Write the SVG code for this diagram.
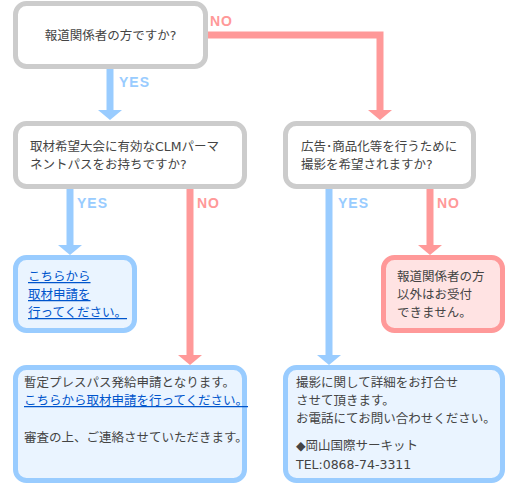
<svg xmlns="http://www.w3.org/2000/svg" width="520" height="500" viewBox="0 0 520 500">
<style>
.box{fill:#fff;stroke:#cccccc;stroke-width:5}
.bbox{fill:#eaf4ff;stroke:#99ccff;stroke-width:5}
.pbox{fill:#ffe3e3;stroke:#ff9999;stroke-width:5}
.t{font-family:"DejaVu Sans","Noto Sans CJK JP",sans-serif;font-size:12.5px;fill:#444444}
.lk{font-family:"DejaVu Sans","Noto Sans CJK JP",sans-serif;font-size:12.5px;fill:#0055cc;text-decoration:underline}
.yl{stroke:#99ccff;stroke-width:7;fill:none}
.nl{stroke:#ff9999;stroke-width:7;fill:none}
.yh{fill:#99ccff}
.nh{fill:#ff9999}
.yes{font-family:"Liberation Sans",Arial,sans-serif;font-weight:bold;font-size:14px;fill:#99ccff;letter-spacing:1px}
.no{font-family:"Liberation Sans",Arial,sans-serif;font-weight:bold;font-size:14px;fill:#ff9999;letter-spacing:1px}
</style>
<g id="connectors">
<path class="yl" d="M110,69 V111"/><polygon class="yh" points="98,110 122,110 110,120"/>
<path class="nl" d="M208,35 H380 V111"/><polygon class="nh" points="368,110 392,110 380,120"/>
<path class="yl" d="M70,189 V246"/><polygon class="yh" points="58,245 82,245 70,255"/>
<path class="nl" d="M190,189 V356"/><polygon class="nh" points="178,355 202,355 190,365"/>
<path class="yl" d="M329,189 V356"/><polygon class="yh" points="317,355 341,355 329,365"/>
<path class="nl" d="M430,189 V246"/><polygon class="nh" points="418,245 442,245 430,255"/>
<text class="no" x="210" y="26">NO</text>
<text class="yes" x="119" y="87">YES</text>
<text class="yes" x="77" y="208">YES</text>
<text class="no" x="197" y="208">NO</text>
<text class="yes" x="338" y="208">YES</text>
<text class="no" x="437" y="208">NO</text>
</g>
<g id="q1">
<rect class="box" x="15.5" y="3.5" width="190" height="63" rx="11"/>
<text class="t" x="110.5" y="40" text-anchor="middle">報道関係者の方ですか?</text>
</g>
<g id="q2">
<rect class="box" x="15.5" y="123.5" width="229" height="63" rx="11"/>
<text class="t" x="30" y="151">取材希望大会に有効なCLMパーマ</text>
<text class="t" x="30" y="169">ネントパスをお持ちですか?</text>
</g>
<g id="q3">
<rect class="box" x="285.5" y="123.5" width="188" height="63" rx="11"/>
<text class="t" x="301" y="151">広告･商品化等を行うために</text>
<text class="t" x="301" y="169">撮影を希望されますか?</text>
</g>
<g id="a-apply">
<rect class="bbox" x="15.5" y="257.5" width="119" height="73" rx="11"/>
<text class="lk" x="28" y="281">こちらから</text>
<text class="lk" x="28" y="299">取材申請を</text>
<text class="lk" x="28" y="317">行ってください。</text>
</g>
<g id="a-reject">
<rect class="pbox" x="383.5" y="257.5" width="119" height="73" rx="11"/>
<text class="t" x="397" y="281">報道関係者の方</text>
<text class="t" x="397" y="299">以外はお受付</text>
<text class="t" x="397" y="317">できません。</text>
</g>
<g id="a-temp">
<rect class="bbox" x="15.5" y="367.5" width="229" height="113" rx="11"/>
<text class="t" x="24" y="387">暫定プレスパス発給申請となります。</text>
<text class="lk" x="24" y="405">こちらから取材申請を行ってください。</text>
<text class="t" x="24" y="442">審査の上、ご連絡させていただきます。</text>
</g>
<g id="a-contact">
<rect class="bbox" x="285.5" y="367.5" width="217" height="113" rx="11"/>
<text class="t" x="296" y="387">撮影に関して詳細をお打合せ</text>
<text class="t" x="296" y="405">させて頂きます。</text>
<text class="t" x="296" y="423">お電話にてお問い合わせください。</text>
<text class="t" x="296" y="450">◆岡山国際サーキット</text>
<text class="t" x="296" y="469">TEL:0868-74-3311</text>
</g>
</svg>
